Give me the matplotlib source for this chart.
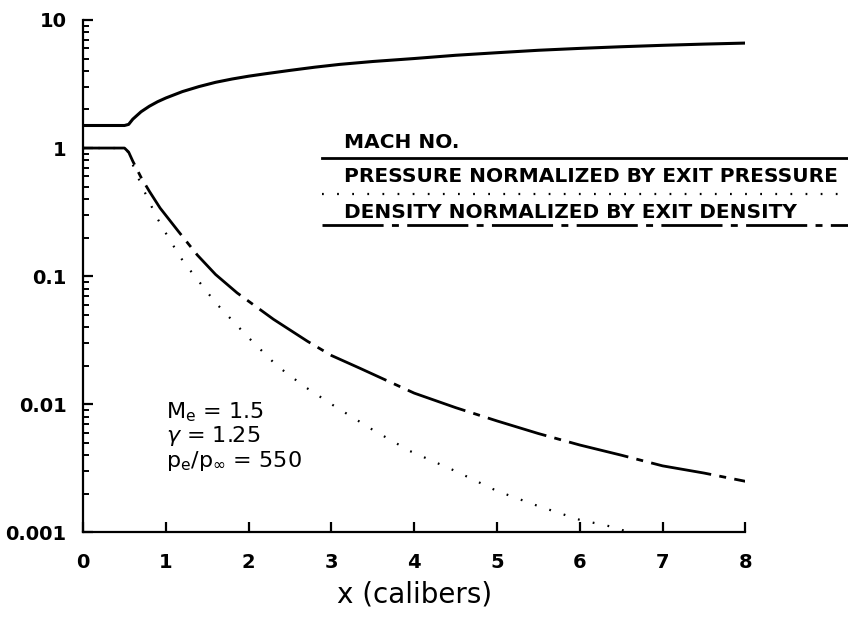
import numpy as np
import matplotlib
matplotlib.use('Agg')
import matplotlib.pyplot as plt

plt.rcParams['font.family'] = ['DejaVu Sans']
plt.rcParams['mathtext.fontset'] = 'dejavusans'

# Mach number along the jet
x_mach = [0.0, 0.5, 0.55, 0.6, 0.7, 0.8, 0.9, 1.0, 1.2, 1.4, 1.6, 1.8, 2.0, 2.2, 2.5, 2.8, 3.1, 3.5, 4.0, 4.5, 5.0, 5.5, 6.0, 6.5, 7.0, 7.5, 8.0]
mach = [1.5, 1.5, 1.53, 1.68, 1.92, 2.12, 2.3, 2.46, 2.76, 3.02, 3.26, 3.46, 3.64, 3.8, 4.04, 4.28, 4.5, 4.74, 5.0, 5.3, 5.55, 5.8, 6.0, 6.18, 6.34, 6.48, 6.6]

# pressure normalized by exit pressure
x_pres = [0.0, 0.5, 0.55, 0.6, 0.7, 0.8, 0.9, 1.05, 1.21, 1.37, 1.6, 2.0, 2.34, 2.67, 3.0, 3.5, 3.95, 4.5, 5.0, 5.5, 6.0, 6.4, 6.7]
pres = [1.0, 1.0, 0.92, 0.74, 0.52, 0.38, 0.28, 0.19, 0.13, 0.096, 0.062, 0.033, 0.020, 0.0138, 0.0100, 0.0063, 0.0043, 0.0030, 0.0021, 0.0016, 0.00125, 0.0011, 0.00095]

# density normalized by exit density
x_dens = [0.0, 0.5, 0.55, 0.6, 0.7, 0.8, 0.93, 1.15, 1.38, 1.6, 1.86, 2.3, 2.71, 3.0, 3.35, 4.0, 4.5, 5.0, 5.5, 6.0, 6.5, 7.0, 7.5, 8.0]
dens = [1.0, 1.0, 0.93, 0.79, 0.59, 0.46, 0.34, 0.224, 0.146, 0.103, 0.074, 0.046, 0.031, 0.024, 0.019, 0.0122, 0.0094, 0.0074, 0.0059, 0.0048, 0.0040, 0.0033, 0.0029, 0.0025]

yticks = [0.001, 0.01, 0.1, 1, 10]
ytick_labels = ['0.001', '0.01', '0.1', '1', '10']
xticks = [0, 1, 2, 3, 4, 5, 6, 7, 8]

dash_dot = (0, (22, 3, 2.5, 3))
dots = (0, (0.8, 6))

fig = plt.figure(figsize=(8.48, 6.24), dpi=100)
ax = fig.add_axes([0.098, 0.147, 0.781, 0.821])

ax.plot(x_mach, mach, color='black', lw=2.2, solid_capstyle='butt')
ax.plot(x_pres, pres, color='black', lw=1.6, linestyle=dots)
ax.plot(x_dens, dens, color='black', lw=2.0, linestyle=dash_dot)

ax.set_yscale('log')
ax.set_xlim(0, 8)
ax.set_ylim(0.001, 10)
ax.set_xticks(xticks)
ax.set_xticklabels([str(t) for t in xticks])
ax.set_yticks(yticks)
ax.set_yticklabels(ytick_labels)
ax.yaxis.set_minor_locator(matplotlib.ticker.LogLocator(base=10, subs=np.arange(2, 10)))
ax.yaxis.set_minor_formatter(matplotlib.ticker.NullFormatter())

for s in ['top', 'right']:
    ax.spines[s].set_visible(False)
for s in ['left', 'bottom']:
    ax.spines[s].set_linewidth(1.6)

ax.tick_params(axis='both', which='major', direction='in', length=7, width=1.6,
               labelsize=14, pad=12)
ax.tick_params(axis='y', which='minor', direction='in', length=4.5, width=1.4)
ax.tick_params(axis='x', pad=15)
for lab in ax.get_xticklabels() + ax.get_yticklabels():
    lab.set_fontweight('bold')

ax.set_xlabel('x (calibers)', fontsize=20, labelpad=6)

# legend drawn by hand like the original
tr = ax.transAxes
lx0, lx1, tx = 0.361, 1.16, 0.394
ax.plot([lx0, lx1], [0.730, 0.730], transform=tr, color='black', lw=2.0, clip_on=False)
ax.plot([lx0, lx1], [0.660, 0.660], transform=tr, color='black', lw=1.6, linestyle=dots, clip_on=False)
ax.plot([lx0, lx1], [0.600, 0.600], transform=tr, color='black', lw=2.0, linestyle=dash_dot, clip_on=False)
ax.text(tx, 0.750, 'MACH NO.', transform=tr, fontsize=14.5, fontweight='bold', clip_on=False)
ax.text(tx, 0.684, 'PRESSURE NORMALIZED BY EXIT PRESSURE', transform=tr, fontsize=14.5,
        fontweight='bold', clip_on=False)
ax.text(tx, 0.613, 'DENSITY NORMALIZED BY EXIT DENSITY', transform=tr, fontsize=14.5,
        fontweight='bold', clip_on=False)

# flow conditions
xt = ax.get_xaxis_transform()
ax.text(1.0, 0.223, r'M$_\mathregular{e}$ = 1.5', transform=xt, fontsize=16)
ax.text(1.0, 0.176, r'$\gamma$ = 1.25', transform=xt, fontsize=16)
ax.text(1.0, 0.127, r'p$_\mathregular{e}$/p$_\infty$ = 550', transform=xt, fontsize=16)

fig.savefig('out.png', dpi=100)
